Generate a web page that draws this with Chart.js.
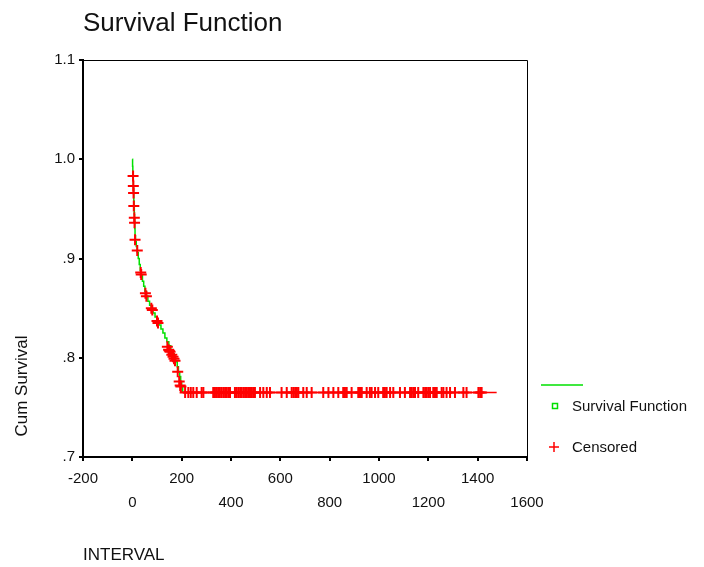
<!DOCTYPE html>
<html>
<head>
<meta charset="utf-8">
<title>Survival Function</title>
<script src="https://cdn.jsdelivr.net/npm/chart.js@4.4.1/dist/chart.umd.min.js"></script>
<style>
  html, body { margin: 0; padding: 0; background: #fff; }
  #chart { display: block; }
</style>
</head>
<body>
<canvas id="chart" width="704" height="567"></canvas>
<script>
// Survival function (step curve): event times and cumulative survival
const survTimes = [0, 1, 2, 3, 4, 5, 6, 7, 8, 9, 10, 11, 13, 16, 20, 24, 28, 32, 36, 41, 46, 51, 57, 63, 70, 77, 84, 92, 100, 108, 116, 124, 132, 140, 148, 156, 163, 170, 176, 182, 187, 192, 196, 200, 204, 1477];
const survVals = [1.0, .993, .986, .979, .972, .965, .958, .951, .944, .937, .930, .923, .917, .912, .906, .900, .894, .888, .883, .877, .872, .867, .862, .857, .853, .849, .845, .841, .837, .833, .829, .825, .820, .816, .812, .808, .804, .800, .796, .791, .786, .781, .776, .771, .765, .765];

// Censored observations
const censorTimes = [3, 4, 5, 6, 8, 9, 11, 20, 34, 36, 53, 57, 77, 81, 100, 104, 142, 147, 150, 153, 160, 165, 169, 173, 184, 190, 194, 197,
  214, 227, 237, 247, 261, 281, 288, 328, 335, 342, 348, 355, 362, 369, 376, 383, 390, 396, 416, 423, 430, 437, 443, 450, 457, 464, 470, 477, 484, 490, 497, 518, 531, 545, 558,
  605, 626, 646, 653, 660, 667, 673, 693, 707, 727, 774, 795, 815, 835, 855, 862, 869, 889, 916, 923, 930, 950, 963, 970, 984, 997, 1017, 1024, 1031,
  1045, 1058, 1085, 1105, 1126, 1133, 1140, 1146, 1159, 1180, 1187, 1193, 1200, 1207, 1220, 1227, 1234, 1254, 1261, 1274, 1288, 1308, 1342, 1355, 1403,
  1410, 1416, 1430, 1457];
const censorVals = [.983, .973, .966, .953, .941, .936, .919, .908, .886, .884, .865, .862, .850, .848, .837, .835, .811, .808, .807, .806, .803, .801, .799, .797, .786, .776, .772, .771,
  .765, .765, .765, .765, .765, .765, .765, .765, .765, .765, .765, .765, .765, .765, .765, .765, .765, .765, .765, .765, .765, .765, .765, .765, .765, .765, .765, .765, .765, .765, .765, .765, .765, .765, .765,
  .765, .765, .765, .765, .765, .765, .765, .765, .765, .765, .765, .765, .765, .765, .765, .765, .765, .765, .765, .765, .765, .765, .765, .765, .765, .765, .765, .765, .765,
  .765, .765, .765, .765, .765, .765, .765, .765, .765, .765, .765, .765, .765, .765, .765, .765, .765, .765, .765, .765, .765, .765, .765,
  .765, .765, .765, .765];

// Tick labels
const xTicks = [-200, 0, 200, 400, 600, 800, 1000, 1200, 1400, 1600];
const yTicks = [0.7, 0.8, 0.9, 1.0, 1.1];
const yTickLabels = ['.7', '.8', '.9', '1.0', '1.1'];

const FONT = '"Liberation Sans", Arial, sans-serif';
const GREEN = '#00e000';
const RED = '#ff0000';

// Title, axis titles, frame and legend
const decorations = {
    id: 'decorations',
    afterDraw(chart) {
        const { ctx, chartArea: a } = chart;
        ctx.save();
        // frame (top and right)
        ctx.strokeStyle = '#000';
        ctx.lineWidth = 1;
        ctx.beginPath();
        ctx.moveTo(a.left, a.top + 0.5);
        ctx.lineTo(a.right + 0.5, a.top + 0.5);
        ctx.lineTo(a.right + 0.5, a.bottom);
        ctx.stroke();

        ctx.fillStyle = '#111';
        ctx.textBaseline = 'middle';
        ctx.textAlign = 'left';
        ctx.font = `26px ${FONT}`;
        ctx.fillText('Survival Function', 83, 24);

        ctx.font = `17px ${FONT}`;
        ctx.fillText('INTERVAL', 83, 555);

        ctx.save();
        ctx.translate(22, 386);
        ctx.rotate(-Math.PI / 2);
        ctx.textAlign = 'center';
        ctx.fillText('Cum Survival', 0, 0);
        ctx.restore();

        // legend
        ctx.strokeStyle = GREEN;
        ctx.lineWidth = 1.5;
        ctx.beginPath();
        ctx.moveTo(541, 385);
        ctx.lineTo(583, 385);
        ctx.stroke();
        ctx.strokeRect(552.5, 403.5, 5, 5);

        ctx.strokeStyle = RED;
        ctx.beginPath();
        ctx.moveTo(549, 447);
        ctx.lineTo(559, 447);
        ctx.moveTo(554, 442);
        ctx.lineTo(554, 452);
        ctx.stroke();

        ctx.fillStyle = '#111';
        ctx.font = `15px ${FONT}`;
        ctx.fillText('Survival Function', 572, 407);
        ctx.fillText('Censored', 572, 448);
        ctx.restore();
    }
};

const ctx = document.getElementById('chart').getContext('2d');

new Chart(ctx, {
    type: 'scatter',
    data: {
        datasets: [
            {
                label: 'Survival Function',
                data: survTimes.map((t, i) => ({ x: t, y: survVals[i] })),
                showLine: true,
                stepped: true,
                borderColor: GREEN,
                borderWidth: 1.5,
                pointRadius: 0,
                segment: {
                    borderColor: c => (c.p0.parsed.y <= 0.766 ? RED : GREEN)
                },
                order: 2
            },
            {
                label: 'Censored',
                data: censorTimes.map((t, i) => ({ x: t, y: censorVals[i] })),
                showLine: false,
                pointStyle: 'cross',
                pointRadius: 5.5,
                borderColor: RED,
                backgroundColor: RED,
                pointBorderWidth: 2,
                order: 1
            }
        ]
    },
    options: {
        responsive: false,
        animation: false,
        layout: { padding: { left: 0, top: 60, right: 177, bottom: 0 } },
        plugins: {
            legend: { display: false },
            title: { display: false },
            tooltip: { enabled: false }
        },
        scales: {
            x: {
                type: 'linear',
                min: -200,
                max: 1600,
                afterBuildTicks: scale => { scale.ticks = xTicks.map(v => ({ value: v })); },
                afterFit: scale => { scale.height = 110; },
                border: { display: true, color: '#000', width: 2 },
                grid: { drawOnChartArea: false, drawTicks: true, tickLength: 4, color: '#000', lineWidth: 2 },
                ticks: {
                    color: '#111',
                    padding: 6,
                    maxRotation: 0,
                    autoSkip: false,
                    font: { family: FONT, size: 15, lineHeight: 1.6 },
                    callback: (v, i) => (i % 2 === 0 ? [String(v), ''] : ['', String(v)])
                }
            },
            y: {
                type: 'linear',
                min: 0.7,
                max: 1.1,
                afterBuildTicks: scale => { scale.ticks = yTicks.map(v => ({ value: v })); },
                afterFit: scale => { scale.width = 83; },
                border: { display: true, color: '#000', width: 2 },
                grid: { drawOnChartArea: false, drawTicks: true, tickLength: 4, color: '#000', lineWidth: 2 },
                ticks: {
                    color: '#111',
                    padding: 4,
                    autoSkip: false,
                    font: { family: FONT, size: 15 },
                    callback: (v, i) => yTickLabels[i]
                }
            }
        }
    },
    plugins: [decorations]
});
</script>
</body>
</html>
